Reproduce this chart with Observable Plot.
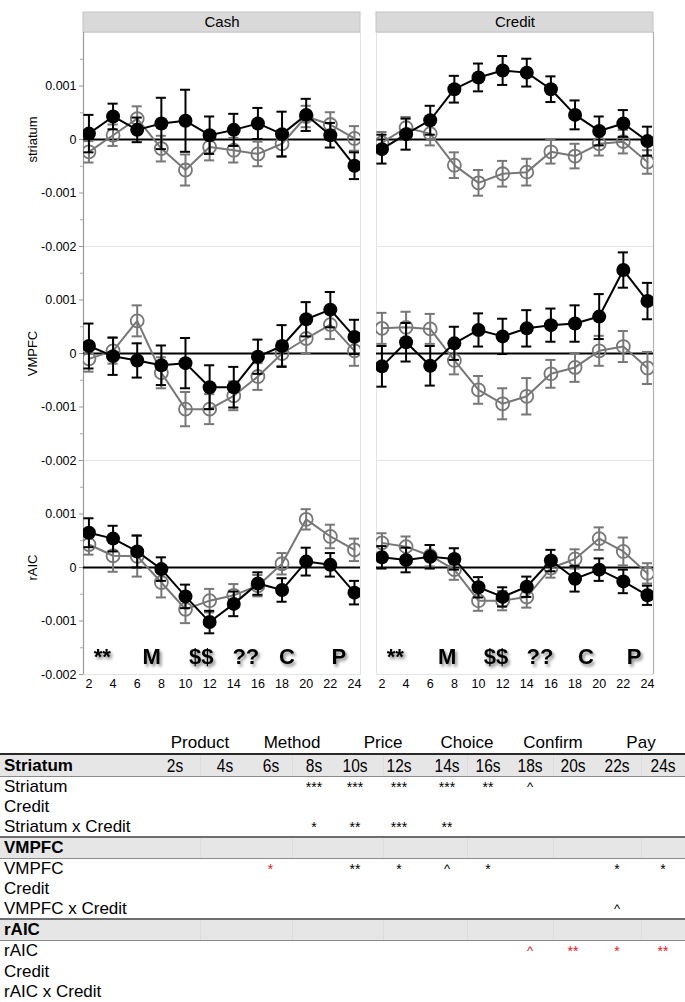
<!DOCTYPE html>
<html><head><meta charset="utf-8">
<script src="https://cdn.jsdelivr.net/npm/d3@7"></script>
<script src="https://cdn.jsdelivr.net/npm/@observablehq/plot@0.6"></script>
<style>
body{margin:0;background:#fff;font-family:"Liberation Sans",Arial,Helvetica,sans-serif;}
#fig{position:relative;width:685px;height:1002px;overflow:hidden;background:#fff;}
#plot{position:absolute;left:0;top:0;}
.t{position:absolute;white-space:nowrap;line-height:20px;height:20px;color:#000;font-size:17px;}
.hl{position:absolute;left:0;width:685px;}
.vl{position:absolute;width:1px;background:#dcdcdc;}
</style></head><body><div id="fig"><div id="plot"></div></div>
<script>
// ---------------- data ----------------
const times = [2,4,6,8,10,12,14,16,18,20,22,24];
const conditions = ["Cash","Credit"];
const regions = ["striatum","VMPFC","rAIC"];

const striatumCashBlack    = [0.00011,0.00043,0.00018,0.0003,0.00035,0.00008,0.00018,0.0003,0.0001,0.00046,0.00008,-0.00049];
const striatumCashBlackErr = [0.00035,0.00024,0.00023,0.00048,0.00058,0.00035,0.0003,0.00029,0.00042,0.0003,0.00023,0.00025];
const striatumCashGray     = [-0.00023,0.00008,0.00039,-0.00017,-0.00057,-0.00014,-0.0002,-0.00027,-0.00008,0.00043,0.00028,0.00002];
const striatumCashGrayErr  = [0.0002,0.0002,0.00023,0.00024,0.00029,0.00025,0.00023,0.00023,0.00023,0.0002,0.00023,0.00023];

const striatumCreditBlack    = [-0.00018,0.0001,0.00036,0.00094,0.00116,0.00129,0.00125,0.00094,0.00046,0.00016,0.0003,-0.00003];
const striatumCreditBlackErr = [0.00027,0.00029,0.00027,0.00025,0.00026,0.00027,0.00026,0.00024,0.00027,0.00027,0.00025,0.00027];
const striatumCreditGray     = [-0.00006,0.00022,0.00011,-0.00048,-0.00081,-0.00064,-0.00061,-0.00023,-0.00031,-0.00008,-0.00004,-0.00042];
const striatumCreditGrayErr  = [0.0002,0.0002,0.00022,0.00024,0.00024,0.00024,0.00025,0.00022,0.00023,0.00022,0.00022,0.00022];

const vmpfcCashBlack    = [0.00014,-0.00005,-0.00013,-0.00022,-0.00018,-0.00063,-0.00063,-0.00006,0.00014,0.00064,0.00082,0.00031];
const vmpfcCashBlackErr = [0.00042,0.00035,0.00032,0.00037,0.00047,0.00041,0.00038,0.00032,0.00039,0.00032,0.00033,0.00032];
const vmpfcCashGray     = [-0.0001,0.00005,0.00061,-0.00036,-0.00104,-0.00104,-0.00079,-0.00043,0.0,0.00028,0.00054,0.00005];
const vmpfcCashGrayErr  = [0.00024,0.00024,0.00029,0.00029,0.00032,0.00028,0.00027,0.00025,0.00023,0.00028,0.00027,0.00028];

const vmpfcCreditBlack    = [-0.00024,0.00021,-0.00023,0.00019,0.00044,0.00032,0.00047,0.00053,0.00056,0.00069,0.00156,0.00098];
const vmpfcCreditBlackErr = [0.00038,0.00036,0.00037,0.00031,0.00031,0.00033,0.00034,0.00031,0.00034,0.00042,0.00033,0.00034];
const vmpfcCreditGray     = [0.00047,0.00049,0.00046,-0.00013,-0.00068,-0.00094,-0.0008,-0.00038,-0.00026,0.00005,0.00013,-0.00027];
const vmpfcCreditGrayErr  = [0.00029,0.00029,0.00028,0.00026,0.00026,0.00029,0.00034,0.00026,0.00027,0.00028,0.00029,0.0003];

const raicCashBlack    = [0.00065,0.00054,0.0003,-0.00003,-0.00054,-0.00102,-0.00068,-0.0003,-0.00042,0.00011,0.00005,-0.00047];
const raicCashBlackErr = [0.00027,0.00024,0.0003,0.00022,0.00022,0.00021,0.00023,0.00021,0.00022,0.00026,0.00022,0.00022];
const raicCashGray     = [0.00043,0.00022,0.00021,-0.00028,-0.00078,-0.00062,-0.00052,-0.00034,0.00007,0.0009,0.00058,0.00033];
const raicCashGrayErr  = [0.00019,0.0003,0.00038,0.00028,0.00026,0.00022,0.00021,0.0002,0.0002,0.00019,0.00022,0.00021];

const raicCreditBlack    = [0.00019,0.00014,0.0002,0.00016,-0.00037,-0.00055,-0.00036,0.00013,-0.00021,-0.00004,-0.00026,-0.00052];
const raicCreditBlackErr = [0.00021,0.00023,0.00022,0.0002,0.00019,0.00018,0.00019,0.0002,0.00024,0.00021,0.00022,0.00018];
const raicCreditGray     = [0.00046,0.00039,0.00022,-0.00004,-0.00062,-0.00062,-0.00055,-0.00001,0.00016,0.00054,0.0003,-0.00011];
const raicCreditGrayErr  = [0.00018,0.00019,0.0002,0.00019,0.00019,0.00018,0.0002,0.00018,0.00018,0.00021,0.00026,0.00019];

const yTicks = [0.001, 0, -0.001, -0.002];
const yMinorTicks = [0.0015, 0.0005, -0.0005, -0.0015];

const stageLabels = ["**","M","$$","??","C","P"];
const stageCashT   = [3.1,7.2,11.3,15.0,18.4,22.7];
const stageCreditT = [3.1,7.4,11.45,15.1,18.9,22.9];
const stageValue = -0.00168;

// table
const groupHeaders = ["Product","Method","Price","Choice","Confirm","Pay"];
const columnLabels = ["2s","4s","6s","8s","10s","12s","14s","16s","18s","20s","22s","24s"];
const sectionNames = ["Striatum","VMPFC","rAIC"];
const sigStriatum       = ["","","","***","***","***","***","**","^","","",""];
const sigStriatumCredit = ["","","","","","","","","","","",""];
const sigStriatumX      = ["","","","*","**","***","**","","","","",""];
const sigVMPFC          = ["","","*","","**","*","^","*","","","*","*"];
const sigVMPFCCredit    = ["","","","","","","","","","","",""];
const sigVMPFCX         = ["","","","","","","","","","","^",""];
const sigRAIC           = ["","","","","","","","","^","**","*","**"];
const sigRAICCredit     = ["","","","","","","","","","","",""];
const sigRAICX          = ["","","","","","","","","","","",""];
const redVMPFC = [false,false,true,false,false,false,false,false,false,false,false,false];
const redRAIC  = [false,false,false,false,false,false,false,false,true,true,true,true];

// ---------------- build rows ----------------
const rows = [];
function add(region, condition, group, vals, errs) {
  vals.forEach((v, i) => rows.push({region, condition, group, t: times[i], v, e: errs[i]}));
}
add("striatum","Cash","gray",striatumCashGray,striatumCashGrayErr);
add("striatum","Cash","black",striatumCashBlack,striatumCashBlackErr);
add("striatum","Credit","gray",striatumCreditGray,striatumCreditGrayErr);
add("striatum","Credit","black",striatumCreditBlack,striatumCreditBlackErr);
add("VMPFC","Cash","gray",vmpfcCashGray,vmpfcCashGrayErr);
add("VMPFC","Cash","black",vmpfcCashBlack,vmpfcCashBlackErr);
add("VMPFC","Credit","gray",vmpfcCreditGray,vmpfcCreditGrayErr);
add("VMPFC","Credit","black",vmpfcCreditBlack,vmpfcCreditBlackErr);
add("rAIC","Cash","gray",raicCashGray,raicCashGrayErr);
add("rAIC","Cash","black",raicCashBlack,raicCashBlackErr);
add("rAIC","Credit","gray",raicCreditGray,raicCreditGrayErr);
add("rAIC","Credit","black",raicCreditBlack,raicCreditBlackErr);
const blackRows = rows.filter(d => d.group === "black");
const grayRows = rows.filter(d => d.group === "gray");

const stages = [];
stageLabels.forEach((s, i) => {
  stages.push({condition: "Cash", t: stageCashT[i], text: s});
  stages.push({condition: "Credit", t: stageCreditT[i], text: s});
});

// ---------------- plot ----------------
const xDomain = [1.55, 24.5];
const yDomain = [-0.002, 0.002];
const stripH = 0.000374;
const capW = 0.42;
const GRAY = "#777";
const fac = {fx: "condition", fy: "region"};

function seriesMarks(data, color, isBlack) {
  return [
    Plot.line(data, {...fac, x: "t", y: "v", z: d => d.condition + d.region, stroke: color, strokeWidth: 2, clip: true}),
    Plot.ruleX(data, {...fac, x: "t", y1: d => d.v - d.e, y2: d => d.v + d.e, stroke: color, strokeWidth: 2, clip: true}),
    Plot.ruleY(data, {...fac, y: d => d.v + d.e, x1: d => d.t - capW, x2: d => d.t + capW, stroke: color, strokeWidth: 2, clip: true}),
    Plot.ruleY(data, {...fac, y: d => d.v - d.e, x1: d => d.t - capW, x2: d => d.t + capW, stroke: color, strokeWidth: 2, clip: true}),
    isBlack
      ? Plot.dot(data, {...fac, x: "t", y: "v", r: 7, fill: "black", stroke: "none", clip: true})
      : Plot.dot(data, {...fac, x: "t", y: "v", r: 6.5, fill: "none", stroke: color, strokeWidth: 1.8, clip: true})
  ];
}

const chart = Plot.plot({
  width: 685, height: 700,
  marginLeft: 82, marginRight: 31, marginTop: 32, marginBottom: 26,
  style: {fontFamily: '"Liberation Sans", Arial, Helvetica, sans-serif', background: "white"},
  x: {domain: xDomain, label: null},
  y: {domain: yDomain, label: null},
  fx: {domain: conditions, paddingInner: 0.0544, paddingOuter: 0, axis: null, label: null},
  fy: {domain: regions, padding: 0, axis: null, label: null},
  marks: [
    Plot.frame({stroke: "#e4e4e4"}),
    // strips
    Plot.rect(conditions, {fx: d => d, fy: () => "striatum", x1: () => xDomain[0], x2: () => xDomain[1],
      y1: () => yDomain[1], y2: () => yDomain[1] + stripH, fill: "#d9d9d9", stroke: "#c4c4c4", strokeWidth: 1}),
    Plot.text(conditions, {fx: d => d, fy: () => "striatum", text: d => d, frameAnchor: "top",
      lineAnchor: "middle", textAnchor: "middle", dy: -10, fontSize: 15}),
    // region labels
    Plot.text(regions, {fy: d => d, fx: () => "Cash", text: d => d, frameAnchor: "left",
      textAnchor: "middle", lineAnchor: "middle", rotate: -90, dx: -51, fontSize: 13}),
    // left axis line & right border
    Plot.ruleX(["Cash"], {fx: d => d, x: () => xDomain[0], stroke: "#9a9a9a", strokeWidth: 1.2}),
    Plot.ruleX(["Credit"], {fx: d => d, x: () => xDomain[1], stroke: "#b0b0b0", strokeWidth: 1.2}),
    Plot.axisY({ticks: yTicks, tickFormat: d => d === 0 ? "0" : d.toFixed(3), tickSize: 4, tickPadding: 3, fontSize: 12.5, stroke: "#999", label: null}),
    Plot.axisY({ticks: yMinorTicks, tickFormat: () => "", tickSize: 3, stroke: "#aaa", label: null}),
    Plot.axisX({ticks: times, tickSize: 0, tickPadding: 5, fontSize: 12.5, label: null}),
    Plot.ruleY([0], {stroke: "black", strokeWidth: 2}),
    ...seriesMarks(grayRows, GRAY, false),
    ...seriesMarks(blackRows, "black", true),
    Plot.text(stages, {fx: "condition", fy: () => "rAIC", x: "t", y: () => stageValue, text: "text",
      fontWeight: "bold", fontSize: 22, fill: "#010101", lineAnchor: "middle"})
  ]
});

// drop shadow for stage labels
const svg = d3.select(chart);
const defs = svg.insert("defs", ":first-child");
const f = defs.append("filter").attr("id", "stageShadow").attr("x", "-30%").attr("y", "-30%").attr("width", "170%").attr("height", "170%");
f.append("feDropShadow").attr("dx", 2).attr("dy", 2.5).attr("stdDeviation", 1.6).attr("flood-color", "#000").attr("flood-opacity", 0.45);
svg.selectAll('g[fill="#010101"]').attr("filter", "url(#stageShadow)");

document.getElementById("plot").appendChild(chart);

// ---------------- table ----------------
const fig = document.getElementById("fig");
const groupX = [200, 292, 383, 467, 553, 641];
const colX = [175, 225, 270.5, 314, 355, 399, 447, 488, 530, 573, 617, 663];
const headerY = 743;
const sectionY = [766, 848, 930];
const rowY = [[787, 807, 827], [869, 889, 909], [951, 972, 992]];
const shadeTop = [755, 838, 920];
const shadeBottom = [776, 858, 940];

function div(cls, styles, text) {
  const d = document.createElement("div");
  d.className = cls;
  Object.assign(d.style, styles);
  if (text != null) d.textContent = text;
  fig.appendChild(d);
  return d;
}
// shading
shadeTop.forEach((t, i) => {
  div("hl", {top: t + "px", height: (shadeBottom[i] - t) + "px", background: "#e6e6e6"});
  groupX.forEach(x => div("vl", {left: x + "px", top: t + "px", height: (shadeBottom[i] - t) + "px"}));
});
// lines
div("hl", {top: "752.5px", height: "2.2px", background: "#2a2a2a"});
div("hl", {top: "835.5px", height: "2.6px", background: "#6e6e6e"});
div("hl", {top: "917.5px", height: "2.6px", background: "#6e6e6e"});
shadeBottom.forEach(b => div("hl", {top: (b - 0.5) + "px", height: "1.6px", background: "#8a8a8a"}));

groupHeaders.forEach((g, i) => div("t", {left: groupX[i] + "px", top: (headerY - 10) + "px", transform: "translateX(-50%)"}, g));
columnLabels.forEach((c, i) => div("t", {left: colX[i] + "px", top: (sectionY[0] - 10) + "px", fontSize: "18px", transform: "translateX(-50%) scaleX(0.86)"}, c));

const sectionRows = [
  [["Striatum", sigStriatum, null], ["Credit", sigStriatumCredit, null], ["Striatum x Credit", sigStriatumX, null]],
  [["VMPFC", sigVMPFC, redVMPFC], ["Credit", sigVMPFCCredit, null], ["VMPFC x Credit", sigVMPFCX, null]],
  [["rAIC", sigRAIC, redRAIC], ["Credit", sigRAICCredit, null], ["rAIC x Credit", sigRAICX, null]]
];
sectionNames.forEach((s, si) => {
  div("t", {left: "4px", top: (sectionY[si] - 10) + "px", fontWeight: "bold"}, s);
  sectionRows[si].forEach(([label, sig, red], ri) => {
    const y = rowY[si][ri];
    div("t", {left: "4px", top: (y - 10) + "px"}, label);
    sig.forEach((m, ci) => {
      if (!m) return;
      div("t", {left: colX[ci] + "px", top: (y - 10) + "px", transform: "translateX(-50%)",
        fontSize: m === "^" ? "13px" : "14px", color: red && red[ci] ? "#e8141a" : "#000"}, m);
    });
  });
});
</script></body></html>
